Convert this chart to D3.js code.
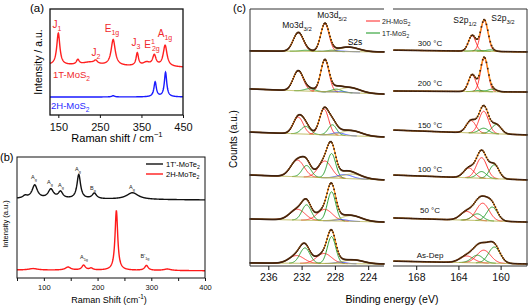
<!DOCTYPE html>
<html>
<head>
<meta charset="utf-8">
<script src="https://cdn.jsdelivr.net/npm/d3@7"></script>
<style>
  body { margin: 0; background: #fff; }
  svg { font-family: "Liberation Sans", Arial, sans-serif; }
</style>
</head>
<body>
<svg id="fig" width="529" height="307"></svg>
<script>
// ---------------- data ----------------
// (a) Raman of MoS2: peaks as [shift cm-1, height a.u., half width]
const ramanA1T = [[150, 3.0, 4.5], [197, 0.45, 4], [225, 0.3, 22], [240, 0.3, 5], [282, 2.45, 6],
                  [340, 1.2, 3.5], [362, 0.35, 10], [381, 1.0, 5], [407, 2.0, 5.5]];
const baseA1T = [4.7, 4.5];
const ramanA2H = [[282, 0.12, 4], [383, 1.4, 3.5], [408, 2.3, 3.5]];
const baseA2H = [1.7, 1.7];
const ticksA = [150, 250, 350, 450];

// (b) Raman of MoTe2
const ramanB1T = [[65, 0.2, 5], [83, 1.1, 6], [113, 0.75, 6], [131, 0.55, 5], [165, 2.0, 4],
                  [194, 0.45, 5], [265, 0.55, 13]];
const baseB1T = [6.55, 6.45];
const ramanB2H = [[80, 0.12, 10], [145, 0.25, 6], [174, 0.4, 4], [188, 0.15, 4], [235, 4.95, 3],
                  [291, 0.4, 4], [330, 0.12, 8]];
const baseB2H = [0.66, 0.6];
const ticksB = [50, 100, 150, 200, 250, 300, 350, 400];
const tickLabelsB = [100, 200, 300, 400];

// (c) XPS, top to bottom
const temps = ["300 °C", "200 °C", "150 °C", "100 °C", "50 °C", "As-Dep"];
// background at left / right end of each window
const moBase = [[83.7, 83.3], [68.9, 66.9], [52.1, 50.2], [35.4, 33.5], [18.3, 17.1], [1.2, 0.8]];
const sBase = [[84.0, 83.3], [68.1, 67.7], [52.9, 51.0], [35.4, 33.5], [18.7, 17.1], [1.9, 0.8]];
// components [binding energy eV, height, sigma]
const moRed = [
  [[232.4, 7.2, 0.6], [229.2, 10.8, 0.5]],
  [[232.4, 7.8, 0.6], [229.2, 12.4, 0.5]],
  [[232.4, 6.5, 0.6], [229.3, 10.0, 0.55]],
  [[232.5, 6.5, 0.8], [229.2, 6.5, 0.8]],
  [[232.5, 4.2, 0.9], [229.2, 4.4, 0.9]],
  [[232.6, 3.0, 0.9], [229.3, 3.9, 0.9]]];
const moGreen = [
  [[231.5, 0.4, 0.6], [228.4, 0.5, 0.5]],
  [[231.0, 1.0, 0.6], [227.8, 1.2, 0.6]],
  [[231.5, 3.0, 0.55], [228.3, 4.0, 0.5]],
  [[231.4, 4.5, 0.55], [228.4, 9.5, 0.5]],
  [[231.4, 6.0, 0.55], [228.4, 11.3, 0.5]],
  [[231.6, 6.0, 0.6], [228.4, 10.5, 0.5]]];
const moBlue = [[227.5, 0.2, 0.8], [227.5, 0.3, 0.8], [227.6, 1.0, 0.7], [226.8, 1.5, 0.9], [227.2, 0.6, 0.7], [227.3, 0.6, 0.6]];
const moS2s = [[226.3, 1.7, 1.2], [226.2, 2.0, 1.2], [226.0, 2.0, 1.2], [225.9, 1.8, 1.2], [226.0, 2.2, 1.2], [225.8, 1.5, 1.2]];
const sRed = [
  [[162.7, 6.0, 0.35], [161.55, 12.0, 0.35]],
  [[162.7, 6.5, 0.35], [161.55, 13.0, 0.35]],
  [[162.8, 4.8, 0.45], [161.6, 8.6, 0.45]],
  [[163.0, 3.8, 0.5], [161.8, 8.0, 0.5]],
  [[163.2, 3.4, 0.6], [161.7, 6.8, 0.6]],
  [[163.2, 2.6, 0.65], [161.6, 5.0, 0.65]]];
const sGreen = [
  [[162.2, 0.4, 0.4], [161.0, 0.6, 0.4]],
  [[162.0, 0.5, 0.4], [160.8, 1.0, 0.4]],
  [[161.6, 2.0, 0.45], [160.4, 3.6, 0.45]],
  [[161.8, 2.6, 0.45], [160.6, 5.4, 0.45]],
  [[162.2, 2.6, 0.5], [160.8, 5.4, 0.5]],
  [[162.2, 3.0, 0.55], [160.6, 6.3, 0.55]]];
const ticksMo = [236, 232, 228, 224];
const ticksS = [168, 164, 160];

// ---------------- helpers ----------------
const svg = d3.select("#fig");

function lor(x, p) { const u = (x - p[0]) / p[2]; return p[1] / (1 + u * u); }
function gau(x, p) { const u = (x - p[0]) / p[2]; return p[1] * Math.exp(-0.5 * u * u); }

// sample a range of x values
function grid(a, b, step) { const out = []; for (let v = a; v <= b + 1e-9; v += step) out.push(v); return out; }

// text with sub/superscripts: parts = [[text, kind, dx]]
function rich(sel, parts, fs) {
  let shift = 0;
  parts.forEach(([t, k, dx]) => {
    const target = k === "sub" ? fs * 0.3 : k === "sup" ? -fs * 0.42 : 0;
    const ts = sel.append("tspan").attr("dy", target - shift)
      .attr("font-size", k ? fs * 0.7 : fs).text(t);
    if (dx) ts.attr("dx", dx);
    shift = target;
  });
  return sel;
}

function bottomAxis(g, x, ticks, labels, yPos, fs, tlen) {
  const ax = g.append("g").attr("transform", `translate(0,${yPos})`)
    .call(d3.axisBottom(x).tickValues(ticks).tickSize(tlen).tickSizeOuter(0)
      .tickFormat(d => labels.includes(d) ? d : ""));
  ax.select(".domain").remove();
  ax.selectAll("text").attr("font-size", fs).attr("font-family", null).attr("fill", "#111").attr("dy", "0.75em");
  ax.selectAll("line").attr("stroke", "#111");
  return ax;
}

// ---------------- panel (a) ----------------
{
  const x = d3.scaleLinear().domain([130, 450]).range([50, 183]);
  const y = d3.scaleLinear().domain([0, 10]).range([115, 9]);
  const g = svg.append("g");
  const xs = grid(130, 450, 0.5);
  const line = d3.line().x(d => x(d[0])).y(d => y(d[1]));
  const spec = (peaks, base) => xs.map(v => [v,
    base[0] + (base[1] - base[0]) * (v - 130) / 320 + d3.sum(peaks, p => lor(v, p))]);

  g.append("path").attr("d", line(spec(ramanA1T, baseA1T))).attr("fill", "none")
    .attr("stroke", "#ff1f1f").attr("stroke-width", 1.4);
  g.append("path").attr("d", line(spec(ramanA2H, baseA2H))).attr("fill", "none")
    .attr("stroke", "#1a1aff").attr("stroke-width", 1.4);

  g.append("rect").attr("x", 50).attr("y", 9).attr("width", 133).attr("height", 106)
    .attr("fill", "none").attr("stroke", "#111").attr("stroke-width", 1.3);
  bottomAxis(g, x, ticksA, ticksA, 115, 11, 3).selectAll("text").attr("dy", "0.9em");

  g.append("text").attr("x", 30).attr("y", 12).attr("font-size", 11.5).text("(a)");
  rich(g.append("text").attr("x", 117).attr("y", 142).attr("text-anchor", "middle"),
    [["Raman shift / cm", ""], ["\u22121", "sup"]], 11);
  g.append("text").attr("transform", "translate(42,62) rotate(-90)").attr("text-anchor", "middle")
    .attr("font-size", 10.5).text("Intensity / a.u.");

  const red = "#f0282d";
  const lab = [[[["J", ""], ["1", "sub"]], 57, 28], [[["E", ""], ["1g", "sub"]], 112, 32],
               [[["J", ""], ["2", "sub"]], 96, 56], [[["J", ""], ["3", "sub"]], 136, 46],
               [[["E", ""], ["1", "sup"], ["2g", "sub", -3]], 152, 48], [[["A", ""], ["1g", "sub"]], 165, 37]];
  lab.forEach(([parts, lx, ly]) => rich(g.append("text").attr("x", lx).attr("y", ly)
    .attr("text-anchor", "middle").attr("fill", red), parts, 10));
  rich(g.append("text").attr("x", 53).attr("y", 78).attr("fill", red), [["1T-MoS", ""], ["2", "sub"]], 9.5);
  rich(g.append("text").attr("x", 51).attr("y", 109).attr("fill", "#2b2bff"), [["2H-MoS", ""], ["2", "sub"]], 9.5);
}

// ---------------- panel (b) ----------------
{
  const x = d3.scaleLinear().domain([50, 400]).range([17, 205]);
  const y = d3.scaleLinear().domain([0, 10]).range([278, 157]);
  const g = svg.append("g");
  const xs = grid(50, 400, 0.5);
  const line = d3.line().x(d => x(d[0])).y(d => y(d[1]));
  const spec = (peaks, base) => xs.map(v => [v,
    base[0] + (base[1] - base[0]) * (v - 50) / 350 + d3.sum(peaks, p => lor(v, p))]);

  g.append("path").attr("d", line(spec(ramanB1T, baseB1T))).attr("fill", "none")
    .attr("stroke", "#111").attr("stroke-width", 1.4);
  g.append("path").attr("d", line(spec(ramanB2H, baseB2H))).attr("fill", "none")
    .attr("stroke", "#ff1a1a").attr("stroke-width", 1.4);

  g.append("rect").attr("x", 17).attr("y", 157).attr("width", 188).attr("height", 121)
    .attr("fill", "none").attr("stroke", "#111").attr("stroke-width", 1);
  bottomAxis(g, x, ticksB, tickLabelsB, 278, 7.5, 3);

  g.append("text").attr("x", 0).attr("y", 161).attr("font-size", 11).text("(b)");
  rich(g.append("text").attr("x", 109).attr("y", 303).attr("text-anchor", "middle"),
    [["Raman Shift (cm", ""], ["-1", "sup"], [")", ""]], 9);
  g.append("text").attr("transform", "translate(8,224) rotate(-90)").attr("text-anchor", "middle")
    .attr("font-size", 7.5).text("Intensity (a.u.)");

  // legend
  [["1T'-MoTe", "#111", 164], ["2H-MoTe", "#ff1a1a", 174]].forEach(([t, c, ly]) => {
    g.append("line").attr("x1", 146).attr("x2", 163).attr("y1", ly).attr("y2", ly)
      .attr("stroke", c).attr("stroke-width", 1.4);
    rich(g.append("text").attr("x", 166).attr("y", ly + 3), [[t, ""], ["2", "sub"]], 7.5);
  });

  const labs = [["A", "g", 34, 179], ["A", "g", 50, 184], ["A", "g", 61, 187], ["A", "g", 78, 171],
                ["B", "g", 93, 190], ["A", "g", 132, 189], ["A", "1g", 84, 259], ["B'", "1g", 145, 258]];
  labs.forEach(([t, s, lx, ly]) => rich(g.append("text").attr("x", lx).attr("y", ly)
    .attr("text-anchor", "middle").attr("fill", "#222"), [[t, ""], [s, "sub"]], 5.5));
}

// ---------------- panel (c) ----------------
{
  const y = d3.scaleLinear().domain([0, 100]).range([266, 9]);
  const xMo = d3.scaleLinear().domain([238.2, 222.1]).range([250, 384]);
  const xS = d3.scaleLinear().domain([170.2, 157.5]).range([393, 527]);
  const g = svg.append("g");
  const col = { red: "#ff2020", green: "#13941a", blue: "#2a3cff", bg: "#b7b24a", fit: "#ff9419", dot: "#3a1e0e" };

  function drawWindow(x, lo, hi, base, comps) {
    const xs = grid(lo, hi, 0.04);
    const line = d3.line().x(d => x(d[0])).y(d => y(d[1]));
    const bgAt = v => base[0] + (base[1] - base[0]) * (hi - v) / (hi - lo);
    // components
    comps.forEach(([p, c]) => {
      const pts = xs.filter(v => Math.abs(v - p[0]) < 3.2 * p[2]).map(v => [v, bgAt(v) + gau(v, p)]);
      g.append("path").attr("d", line(pts)).attr("fill", "none").attr("stroke", c).attr("stroke-width", 0.9);
    });
    g.append("path").attr("d", line(xs.map(v => [v, bgAt(v)]))).attr("fill", "none")
      .attr("stroke", col.bg).attr("stroke-width", 1);
    const env = xs.map(v => [v, bgAt(v) + d3.sum(comps, ([p]) => gau(v, p))]);
    g.append("path").attr("d", line(env)).attr("fill", "none").attr("stroke", col.fit).attr("stroke-width", 1.3);
    g.append("g").selectAll("rect").data(env.filter((d, i) => i % 3 === 0)).join("rect")
      .attr("x", d => x(d[0]) - 0.8).attr("y", d => y(d[1]) - 0.8)
      .attr("width", 1.6).attr("height", 1.6).attr("fill", col.dot);
  }

  temps.forEach((t, i) => {
    const mo = [...moRed[i].map(p => [p, col.red]), ...moGreen[i].map(p => [p, col.green]),
                [moBlue[i], col.blue], [moS2s[i], col.bg]];
    drawWindow(xMo, 222.1, 238.2, moBase[i], mo);
    const s = [...sRed[i].map(p => [p, col.red]), ...sGreen[i].map(p => [p, col.green])];
    drawWindow(xS, 157.5, 170.2, sBase[i], s);
  });

  // frames (broken axis)
  const fr = g.append("g").attr("stroke", "#333").attr("stroke-width", 1).attr("fill", "none");
  fr.append("path").attr("d", "M384,9H250V266H384");
  fr.append("path").attr("d", "M393,9H527V266H393");
  bottomAxis(g, xMo, ticksMo, ticksMo, 266, 10.5, 4);
  bottomAxis(g, xS, ticksS, ticksS, 266, 10.5, 4);

  g.append("text").attr("x", 233).attr("y", 12).attr("font-size", 11).text("(c)");
  g.append("text").attr("x", 392).attr("y", 303).attr("text-anchor", "middle").attr("font-size", 10.5)
    .text("Binding energy (eV)");
  g.append("text").attr("transform", "translate(237,139) rotate(-90)").attr("text-anchor", "middle")
    .attr("font-size", 10).text("Counts (a.u.)");

  const tempY = [43, 83, 125, 169, 210, 255];
  temps.forEach((t, i) => g.append("text").attr("x", 430).attr("y", tempY[i] + 3)
    .attr("text-anchor", "middle").attr("font-size", 8).attr("fill", "#111").text(t));

  const peakLabs = [["Mo3d", "3/2", 297, 28], ["Mo3d", "5/2", 332, 18], ["S2p", "1/2", 465, 23], ["S2p", "3/2", 503, 21]];
  peakLabs.forEach(([t, s, lx, ly]) => rich(g.append("text").attr("x", lx).attr("y", ly)
    .attr("text-anchor", "middle").attr("fill", "#111"), [[t, ""], [s, "sub"]], 8.5));
  g.append("text").attr("x", 355).attr("y", 45).attr("text-anchor", "middle").attr("font-size", 8.5).text("S2s");

  [["2H-MoS", col.red, 21], ["1T-MoS", col.green, 33]].forEach(([t, c, ly]) => {
    g.append("line").attr("x1", 366).attr("x2", 380).attr("y1", ly).attr("y2", ly)
      .attr("stroke", c).attr("stroke-width", 1);
    rich(g.append("text").attr("x", 382).attr("y", ly + 2.5).attr("fill", "#222"), [[t, ""], ["2", "sub"]], 7);
  });
}
</script>
</body>
</html>
